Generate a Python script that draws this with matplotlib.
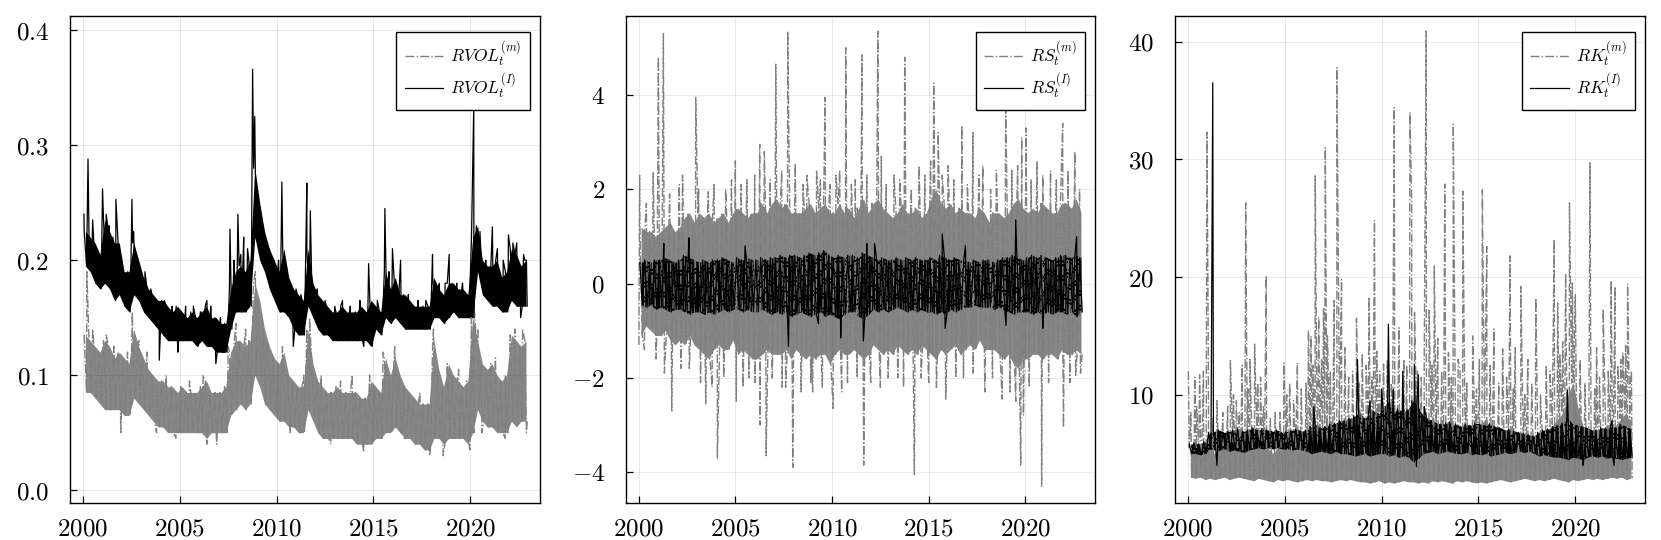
import numpy as np
import matplotlib
matplotlib.use("Agg")
import matplotlib.pyplot as plt
from matplotlib.ticker import FuncFormatter

plt.rcParams["mathtext.fontset"] = "cm"
plt.rcParams["font.family"] = ["DejaVu Serif"]

# ---- quarterly envelopes (2000Q1 .. 2022Q4) ----
# RVOL, intraday (I)
rvol_i_hi = [0.225, 0.22, 0.215, 0.205, 0.235, 0.225, 0.215, 0.215, 0.19, 0.19, 0.215, 0.2,
             0.185, 0.175, 0.17, 0.165, 0.165, 0.16, 0.155, 0.16, 0.155, 0.15, 0.155, 0.15,
             0.155, 0.16, 0.15, 0.15, 0.145, 0.145, 0.175, 0.19, 0.195, 0.19, 0.2, 0.28,
             0.25, 0.225, 0.21, 0.2, 0.19, 0.21, 0.185, 0.175, 0.17, 0.165, 0.21, 0.18,
             0.17, 0.165, 0.16, 0.155, 0.155, 0.16, 0.155, 0.155, 0.155, 0.16, 0.155, 0.165,
             0.16, 0.155, 0.19, 0.175, 0.185, 0.17, 0.17, 0.165, 0.16, 0.16, 0.16, 0.16,
             0.185, 0.175, 0.17, 0.18, 0.18, 0.175, 0.175, 0.17, 0.22, 0.23, 0.2, 0.195,
             0.195, 0.2, 0.185, 0.19, 0.21, 0.205, 0.195, 0.2]
rvol_i_lo = [0.195, 0.19, 0.18, 0.175, 0.18, 0.175, 0.165, 0.17, 0.16, 0.155, 0.17, 0.165,
             0.155, 0.15, 0.145, 0.14, 0.135, 0.13, 0.13, 0.13, 0.13, 0.13, 0.13, 0.125,
             0.13, 0.125, 0.125, 0.12, 0.12, 0.12, 0.14, 0.155, 0.155, 0.155, 0.16, 0.22,
             0.2, 0.19, 0.175, 0.165, 0.155, 0.155, 0.15, 0.14, 0.135, 0.135, 0.16, 0.15,
             0.14, 0.135, 0.135, 0.13, 0.13, 0.13, 0.13, 0.13, 0.13, 0.13, 0.13, 0.125,
             0.14, 0.135, 0.15, 0.145, 0.15, 0.145, 0.14, 0.14, 0.14, 0.14, 0.14, 0.14,
             0.15, 0.15, 0.145, 0.15, 0.155, 0.15, 0.15, 0.15, 0.15, 0.19, 0.17, 0.165,
             0.16, 0.16, 0.155, 0.155, 0.165, 0.16, 0.16, 0.16]
rvol_i_spikes = [(2000.05, 0.24), (2000.26, 0.288), (2000.5, 0.235), (2000.7, 0.2),
                 (2001.01, 0.262), (2001.2, 0.24), (2001.35, 0.23), (2001.55, 0.22),
                 (2001.7, 0.253), (2001.9, 0.19), (2002.15, 0.185), (2002.53, 0.253),
                 (2002.62, 0.225), (2002.8, 0.2), (2003.2, 0.19), (2003.5, 0.175),
                 (2003.7, 0.165), (2003.94, 0.113), (2004.2, 0.165), (2004.6, 0.16),
                 (2004.9, 0.12), (2005.3, 0.16), (2005.7, 0.16), (2006.1, 0.155),
                 (2006.4, 0.165), (2006.6, 0.16), (2006.86, 0.11), (2007.1, 0.15),
                 (2007.3, 0.12), (2007.59, 0.227), (2007.8, 0.2), (2008.0, 0.24),
                 (2008.15, 0.205), (2008.3, 0.22), (2008.5, 0.21), (2008.76, 0.366),
                 (2008.87, 0.325), (2009.1, 0.25), (2009.3, 0.23), (2009.6, 0.21),
                 (2009.85, 0.2), (2010.1, 0.2), (2010.27, 0.268), (2010.5, 0.195),
                 (2010.86, 0.125), (2011.0, 0.175), (2011.25, 0.17), (2011.56, 0.267),
                 (2011.74, 0.243), (2012.1, 0.175), (2012.5, 0.165), (2013.0, 0.16),
                 (2013.4, 0.165), (2013.8, 0.16), (2014.3, 0.165), (2014.5, 0.125),
                 (2014.75, 0.197), (2015.2, 0.165), (2015.59, 0.245), (2015.8, 0.19),
                 (2015.98, 0.21), (2016.4, 0.2), (2016.8, 0.17), (2017.3, 0.165),
                 (2017.7, 0.165), (2018.05, 0.205), (2018.4, 0.18), (2018.7, 0.18),
                 (2018.91, 0.205), (2019.3, 0.18), (2019.6, 0.18), (2019.9, 0.155),
                 (2020.18, 0.335), (2020.5, 0.225), (2020.8, 0.2), (2021.14, 0.229),
                 (2021.4, 0.21), (2021.7, 0.2), (2021.97, 0.222), (2022.2, 0.215),
                 (2022.4, 0.215), (2022.6, 0.15), (2022.75, 0.205), (2022.9, 0.2)]

# RVOL, model (m)
rvol_m_hi = [0.135, 0.13, 0.125, 0.12, 0.13, 0.125, 0.115, 0.12, 0.115, 0.11, 0.14, 0.125,
             0.115, 0.105, 0.1, 0.095, 0.095, 0.09, 0.09, 0.085, 0.09, 0.085, 0.085, 0.085,
             0.09, 0.095, 0.085, 0.085, 0.085, 0.09, 0.12, 0.13, 0.13, 0.125, 0.13, 0.18,
             0.165, 0.14, 0.125, 0.115, 0.11, 0.12, 0.1, 0.095, 0.09, 0.09, 0.14, 0.11,
             0.095, 0.09, 0.085, 0.085, 0.09, 0.085, 0.085, 0.085, 0.085, 0.08, 0.08, 0.095,
             0.09, 0.085, 0.115, 0.1, 0.115, 0.1, 0.09, 0.085, 0.08, 0.075, 0.075, 0.075,
             0.13, 0.105, 0.09, 0.11, 0.1, 0.095, 0.09, 0.095, 0.15, 0.13, 0.11, 0.105,
             0.11, 0.1, 0.095, 0.1, 0.135, 0.13, 0.125, 0.13]
rvol_m_lo = [0.085, 0.085, 0.08, 0.075, 0.07, 0.07, 0.07, 0.07, 0.065, 0.065, 0.08, 0.075,
             0.07, 0.065, 0.06, 0.055, 0.055, 0.05, 0.05, 0.05, 0.05, 0.05, 0.05, 0.05,
             0.05, 0.045, 0.05, 0.05, 0.05, 0.05, 0.065, 0.07, 0.075, 0.07, 0.075, 0.1,
             0.09, 0.075, 0.07, 0.065, 0.06, 0.06, 0.055, 0.055, 0.05, 0.05, 0.07, 0.06,
             0.05, 0.045, 0.045, 0.045, 0.045, 0.045, 0.045, 0.045, 0.04, 0.04, 0.04, 0.04,
             0.045, 0.045, 0.05, 0.05, 0.055, 0.05, 0.045, 0.045, 0.04, 0.04, 0.035, 0.035,
             0.045, 0.045, 0.04, 0.045, 0.045, 0.045, 0.045, 0.04, 0.05, 0.07, 0.06, 0.055,
             0.055, 0.05, 0.05, 0.05, 0.06, 0.055, 0.06, 0.06]
rvol_m_spikes = [(2000.2, 0.19), (2000.5, 0.14), (2001.2, 0.135), (2001.6, 0.125),
                 (2001.95, 0.05), (2002.3, 0.12), (2002.55, 0.155), (2002.9, 0.13),
                 (2003.3, 0.12), (2003.8, 0.05), (2004.3, 0.1), (2004.8, 0.045),
                 (2005.5, 0.095), (2006.2, 0.1), (2006.4, 0.04), (2006.9, 0.04),
                 (2007.5, 0.125), (2007.9, 0.145), (2008.4, 0.14), (2008.8, 0.18),
                 (2008.9, 0.19), (2009.5, 0.13), (2010.3, 0.125), (2010.7, 0.05),
                 (2011.4, 0.1), (2011.7, 0.15), (2012.3, 0.1), (2012.8, 0.04),
                 (2013.3, 0.095), (2013.9, 0.1), (2014.5, 0.033), (2014.8, 0.1),
                 (2015.5, 0.12), (2016.1, 0.125), (2016.6, 0.045), (2017.4, 0.085),
                 (2017.9, 0.03), (2018.1, 0.14), (2018.6, 0.03), (2019.4, 0.105),
                 (2019.98, 0.035), (2020.2, 0.16), (2020.4, 0.14), (2020.6, 0.05),
                 (2021.3, 0.115), (2021.8, 0.045), (2022.3, 0.14), (2022.7, 0.14),
                 (2022.9, 0.05)]

# RS, intraday (I)
rs_i_hi = [0.45, 0.5, 0.45, 0.5, 0.5, 0.55, 0.5, 0.45, 0.5, 0.6, 0.55, 0.5,
           0.45, 0.5, 0.45, 0.5, 0.5, 0.55, 0.5, 0.45, 0.55, 0.5, 0.55, 0.5,
           0.5, 0.55, 0.5, 0.55, 0.55, 0.6, 0.55, 0.6, 0.6, 0.55, 0.6, 0.65,
           0.6, 0.65, 0.7, 0.6, 0.55, 0.6, 0.55, 0.6, 0.6, 0.55, 0.65, 0.6,
           0.55, 0.5, 0.55, 0.5, 0.5, 0.55, 0.5, 0.55, 0.5, 0.55, 0.5, 0.5,
           0.55, 0.5, 0.6, 0.55, 0.5, 0.55, 0.5, 0.5, 0.45, 0.5, 0.45, 0.5,
           0.5, 0.45, 0.5, 0.55, 0.55, 0.6, 0.55, 0.5, 0.55, 0.6, 0.55, 0.6,
           0.55, 0.5, 0.55, 0.6, 0.6, 0.55, 0.6, 0.55]
rs_i_lo = [-0.45, -0.5, -0.45, -0.55, -0.5, -0.55, -0.6, -0.55, -0.55, -0.6, -0.65, -0.6,
           -0.6, -0.65, -0.6, -0.65, -0.6, -0.55, -0.6, -0.55, -0.55, -0.6, -0.55, -0.6,
           -0.6, -0.55, -0.6, -0.65, -0.6, -0.65, -0.6, -0.7, -0.65, -0.6, -0.65, -0.7,
           -0.65, -0.6, -0.7, -0.65, -0.7, -0.75, -0.65, -0.6, -0.6, -0.7, -0.75, -0.65,
           -0.55, -0.6, -0.55, -0.6, -0.55, -0.5, -0.55, -0.6, -0.55, -0.6, -0.55, -0.6,
           -0.6, -0.65, -0.6, -0.65, -0.55, -0.6, -0.55, -0.5, -0.5, -0.45, -0.5, -0.5,
           -0.5, -0.55, -0.5, -0.55, -0.6, -0.65, -0.6, -0.6, -0.6, -0.65, -0.6, -0.65,
           -0.6, -0.65, -0.6, -0.6, -0.65, -0.6, -0.7, -0.6]
rs_i_spikes = [(2001.3, 0.85), (2002.6, 0.97), (2005.5, 0.8), (2007.75, -1.33),
               (2009.3, -0.85), (2010.45, -1.15), (2011.62, -1.22), (2011.8, 0.85),
               (2012.2, 0.85), (2015.7, 1.05), (2015.85, -0.95), (2016.9, 0.8),
               (2019.0, -0.89), (2019.5, 1.35), (2020.9, -0.95), (2022.65, 1.0)]

# RS, model (m) - dense core plus the sparser spikes around it
rs_m_hi = [1.2, 1.1, 1.1, 1.0, 1.1, 1.2, 1.3, 1.1, 1.2, 1.4, 1.5, 1.3,
           1.5, 1.4, 1.5, 1.3, 1.4, 1.5, 1.3, 1.5, 1.6, 1.5, 1.4, 1.5,
           1.5, 1.7, 1.5, 1.7, 1.8, 1.6, 1.7, 1.5, 1.5, 1.5, 1.6, 1.7,
           1.5, 1.6, 1.7, 1.5, 1.5, 1.7, 1.5, 1.6, 1.4, 1.6, 1.8, 1.5,
           1.7, 1.8, 1.6, 1.5, 1.4, 1.5, 1.7, 1.5, 1.5, 1.6, 1.4, 1.5,
           1.8, 2.0, 1.7, 1.6, 1.7, 1.5, 1.6, 1.5, 1.5, 1.4, 1.6, 1.5,
           1.3, 1.5, 1.5, 1.4, 1.5, 1.7, 1.8, 1.6, 1.5, 1.6, 1.5, 1.7,
           1.6, 1.5, 1.5, 1.7, 1.7, 1.6, 1.8, 1.5]
rs_m_lo = [-1.1, -0.9, -1.0, -1.1, -1.1, -1.0, -1.2, -1.3, -1.2, -1.3, -1.1, -1.3,
           -1.4, -1.5, -1.6, -1.4, -1.3, -1.4, -1.4, -1.2, -1.5, -1.4, -1.5, -1.6,
           -1.6, -1.5, -1.4, -1.5, -1.5, -1.5, -1.4, -1.6, -1.4, -1.5, -1.6, -1.5,
           -1.6, -1.5, -1.5, -1.7, -1.5, -1.4, -1.5, -1.5, -1.4, -1.5, -1.6, -1.5,
           -1.3, -1.4, -1.5, -1.4, -1.5, -1.3, -1.4, -1.5, -1.4, -1.5, -1.3, -1.4,
           -1.5, -1.6, -1.4, -1.5, -1.4, -1.3, -1.5, -1.4, -1.3, -1.4, -1.2, -1.4,
           -1.4, -1.4, -1.5, -1.6, -1.5, -1.7, -1.8, -1.6, -1.6, -1.5, -1.5, -1.6,
           -1.5, -1.5, -1.6, -1.4, -1.5, -1.5, -1.4, -1.5]
rs_m_spikes = [(2000.05, 2.3), (2000.4, 1.7), (2000.75, 2.35), (2001.02, 4.8), (2001.28, 5.3),
               (2001.6, 1.9), (2002.1, 2.1), (2002.27, 2.3), (2002.95, 3.95), (2003.1, 2.0),
               (2003.6, 1.95), (2003.9, 2.1), (2004.5, 2.0), (2004.8, 2.2), (2005.0, 2.6),
               (2005.3, 2.1), (2005.6, 2.2), (2006.0, 2.3), (2006.26, 2.95), (2006.5, 2.8),
               (2006.8, 2.2), (2007.09, 4.65), (2007.4, 2.4), (2007.71, 5.35), (2008.1, 2.55),
               (2008.5, 2.1), (2008.7, 2.3), (2009.2, 2.4), (2009.4, 2.2), (2009.64, 3.95),
               (2009.9, 2.1), (2010.2, 2.3), (2010.4, 2.4), (2010.71, 5.0), (2011.0, 2.1),
               (2011.2, 2.2), (2011.55, 4.85), (2011.8, 2.3), (2012.37, 5.35), (2012.55, 2.7),
               (2012.8, 2.1), (2013.2, 2.3), (2013.5, 2.2), (2013.76, 4.8), (2014.1, 2.0),
               (2014.5, 2.5), (2014.8, 2.3), (2015.1, 2.6), (2015.26, 4.25), (2015.49, 3.2),
               (2015.7, 2.3), (2016.0, 2.5), (2016.3, 2.2), (2016.71, 3.35), (2017.0, 2.1),
               (2017.29, 3.2), (2017.6, 2.3), (2017.8, 2.5), (2018.2, 2.0), (2018.5, 2.4),
               (2018.98, 3.7), (2019.3, 2.4), (2019.6, 2.5), (2019.81, 3.1), (2020.04, 3.3),
               (2020.3, 2.2), (2020.6, 2.6), (2020.9, 2.3), (2021.3, 2.4), (2021.6, 2.2),
               (2021.93, 3.4), (2022.2, 2.4), (2022.56, 2.8), (2022.8, 2.0),
               (2000.01, -1.3), (2000.3, -1.4), (2000.9, -1.6), (2001.33, -1.9),
               (2001.71, -2.7), (2002.2, -1.8), (2002.62, -1.8), (2003.2, -2.1),
               (2003.47, -2.55), (2003.8, -2.2), (2004.07, -3.7), (2004.4, -2.0),
               (2005.05, -2.5), (2005.4, -2.2), (2005.7, -2.0), (2006.02, -2.1),
               (2006.28, -3.0), (2006.59, -3.65), (2006.9, -2.0), (2007.42, -2.2),
               (2007.6, -2.2), (2007.97, -3.9), (2008.4, -2.3), (2008.9, -2.1),
               (2009.0, -2.3), (2009.5, -2.2), (2010.06, -2.65), (2010.5, -2.3),
               (2010.8, -2.1), (2011.3, -2.0), (2011.64, -3.85), (2012.0, -2.1),
               (2012.5, -2.2), (2012.9, -2.0), (2013.4, -2.0), (2013.7, -2.2),
               (2014.26, -4.05), (2014.6, -2.0), (2015.0, -2.1), (2015.4, -2.2),
               (2015.88, -2.45), (2016.4, -2.0), (2016.8, -2.0), (2017.3, -1.9),
               (2017.9, -2.3), (2018.3, -2.0), (2018.8, -2.45), (2019.2, -2.3),
               (2019.5, -2.5), (2019.76, -3.85), (2019.9, -2.8), (2020.2, -2.2),
               (2020.84, -4.3), (2021.2, -2.1), (2021.97, -3.05), (2022.3, -2.1),
               (2022.6, -1.95), (2022.85, -1.9)]

# RK, intraday (I)
rk_i_hi = [5.8, 5.9, 5.8, 6.0, 6.8, 6.9, 7.0, 6.8, 6.9, 7.0, 7.1, 6.9,
           7.0, 7.2, 7.0, 7.1, 7.0, 6.9, 7.0, 6.8, 6.9, 7.0, 7.1, 6.9,
           7.0, 7.3, 7.5, 7.2, 7.3, 7.5, 7.6, 7.8, 7.8, 8.0, 8.2, 8.5,
           8.0, 8.3, 8.6, 8.4, 9.0, 9.5, 8.5, 8.8, 8.5, 8.8, 9.5, 9.0,
           8.3, 8.0, 7.8, 7.6, 7.5, 7.6, 7.4, 7.5, 7.3, 7.5, 7.4, 7.6,
           7.5, 7.4, 7.5, 7.3, 7.2, 7.0, 7.1, 6.9, 6.8, 6.7, 6.6, 6.5,
           6.8, 7.0, 7.1, 7.3, 7.4, 7.6, 8.0, 7.5, 7.4, 7.3, 7.2, 7.0,
           7.0, 7.2, 7.1, 7.3, 7.2, 7.5, 7.3, 7.1]
rk_i_lo = [5.0, 5.0, 4.9, 5.0, 5.4, 5.3, 5.3, 5.4, 5.2, 5.3, 5.2, 5.1,
           5.3, 5.4, 5.5, 5.4, 5.5, 5.4, 5.5, 5.4, 5.4, 5.3, 5.4, 5.3,
           5.2, 5.0, 5.1, 5.2, 5.1, 5.0, 5.2, 5.0, 5.0, 4.9, 4.8, 4.9,
           5.0, 4.8, 4.9, 5.0, 5.0, 4.8, 4.9, 4.7, 4.8, 4.7, 4.3, 4.6,
           5.0, 5.1, 5.2, 5.0, 5.1, 5.2, 5.1, 5.0, 5.0, 5.1, 4.9, 5.0,
           4.9, 5.0, 4.8, 4.9, 5.0, 5.1, 5.0, 5.1, 5.2, 5.1, 5.2, 5.0,
           4.8, 4.9, 4.8, 4.7, 4.7, 4.6, 4.5, 4.7, 4.6, 4.5, 4.7, 4.8,
           4.7, 4.8, 4.6, 4.7, 4.6, 4.5, 4.6, 4.7]
rk_i_spikes = [(2001.28, 36.5), (2001.5, 4.0), (2006.5, 9.0), (2008.75, 13.0),
               (2009.4, 9.5), (2010.0, 10.5), (2010.35, 16.0), (2010.6, 10.5),
               (2011.09, 12.0), (2011.69, 12.6), (2011.8, 3.9), (2011.9, 11.7),
               (2012.2, 9.0), (2013.5, 7.7), (2019.59, 10.4), (2020.4, 4.0),
               (2021.9, 7.8), (2022.0, 4.0)]

# RK, model (m) - dense core plus the spikes above it
rk_m_hi = [5.5, 5.0, 5.5, 5.0, 5.5, 5.0, 5.5, 6.0, 5.5, 6.0, 5.5, 6.0,
           6.5, 6.0, 6.5, 6.0, 5.5, 5.0, 5.5, 5.5, 6.0, 6.0, 5.5, 6.0,
           6.0, 6.5, 7.0, 7.0, 7.5, 7.0, 7.0, 7.5, 7.0, 6.5, 6.5, 7.5,
           7.0, 7.5, 7.5, 7.0, 7.5, 7.5, 7.0, 7.5, 7.0, 7.5, 8.0, 7.5,
           7.5, 7.5, 8.0, 7.0, 7.5, 7.5, 7.0, 7.5, 7.0, 6.5, 6.5, 6.5,
           7.5, 8.0, 7.0, 6.5, 6.5, 7.0, 6.5, 6.0, 6.0, 6.5, 6.0, 6.5,
           6.5, 6.0, 7.0, 7.5, 8.0, 8.5, 10.0, 11.0, 9.0, 7.5, 6.5, 7.0,
           6.5, 7.0, 7.5, 7.0, 7.5, 8.0, 8.5, 7.5]
rk_m_lo = [3.0, 2.9, 3.0, 2.8, 2.9, 2.8, 2.9, 3.0, 2.8, 2.9, 3.0, 2.9,
           2.8, 2.7, 2.9, 2.8, 2.7, 2.6, 2.8, 2.7, 2.8, 2.7, 2.6, 2.7,
           2.8, 2.7, 2.8, 2.7, 2.7, 2.6, 2.7, 2.8, 2.7, 2.8, 2.7, 2.6,
           2.6, 2.5, 2.6, 2.7, 2.5, 2.6, 2.5, 2.6, 2.7, 2.6, 2.6, 2.5,
           2.6, 2.5, 2.7, 2.6, 2.7, 2.6, 2.5, 2.7, 2.6, 2.7, 2.6, 2.5,
           2.6, 2.5, 2.6, 2.7, 2.8, 2.7, 2.6, 2.7, 2.8, 2.9, 2.8, 2.7,
           2.8, 2.7, 2.8, 2.9, 2.8, 2.7, 2.6, 2.8, 2.7, 2.8, 2.9, 2.8,
           2.9, 2.8, 2.9, 3.0, 2.9, 3.0, 2.8, 2.9]
rk_m_spikes = [(2000.02, 12.0), (2000.15, 8.5), (2000.35, 11.5), (2000.45, 9.0),
               (2000.6, 11.7), (2000.8, 12.0), (2000.98, 32.3), (2001.05, 14.0),
               (2001.3, 8.0), (2001.5, 9.5), (2001.8, 8.5), (2002.05, 9.0),
               (2002.19, 12.9), (2002.35, 10.0), (2002.5, 9.5), (2002.65, 8.5),
               (2002.8, 12.5), (2002.98, 26.3), (2003.1, 10.5), (2003.2, 13.0),
               (2003.44, 14.3), (2003.6, 11.0), (2003.75, 11.5), (2003.9, 9.0),
               (2004.04, 20.1), (2004.25, 8.0), (2004.5, 8.5), (2004.75, 8.5),
               (2004.95, 12.7), (2005.1, 10.0), (2005.25, 11.0), (2005.45, 9.5),
               (2005.65, 12.7), (2005.85, 10.5), (2006.1, 11.0), (2006.22, 15.5),
               (2006.35, 15.0), (2006.45, 12.5), (2006.57, 28.6), (2006.75, 16.6),
               (2006.9, 13.0), (2007.0, 17.3), (2007.09, 31.0), (2007.2, 15.0),
               (2007.35, 12.0), (2007.55, 18.0), (2007.69, 37.8), (2007.8, 13.5),
               (2007.93, 19.8), (2008.1, 14.0), (2008.3, 11.5), (2008.5, 12.0),
               (2008.7, 16.5), (2008.85, 11.0), (2009.0, 13.5), (2009.2, 12.5),
               (2009.35, 18.3), (2009.5, 11.5), (2009.63, 24.8), (2009.75, 13.7),
               (2009.9, 12.0), (2010.1, 12.6), (2010.3, 13.0), (2010.5, 11.0),
               (2010.65, 34.4), (2010.9, 15.7), (2011.15, 13.0), (2011.3, 12.5),
               (2011.46, 34.0), (2011.55, 26.6), (2011.7, 17.0), (2011.85, 12.0),
               (2012.05, 11.5), (2012.2, 13.0), (2012.3, 40.9), (2012.45, 17.2),
               (2012.6, 12.5), (2012.72, 21.0), (2012.9, 14.8), (2013.1, 12.0),
               (2013.26, 27.9), (2013.45, 13.6), (2013.6, 11.5), (2013.7, 33.0),
               (2013.95, 13.0), (2014.05, 12.0), (2014.19, 27.3), (2014.4, 11.0),
               (2014.7, 15.0), (2014.9, 10.5), (2015.05, 13.0), (2015.2, 27.4),
               (2015.43, 22.6), (2015.6, 12.5), (2015.8, 15.6), (2016.05, 11.0),
               (2016.25, 13.9), (2016.45, 11.5), (2016.63, 21.8), (2016.8, 10.5),
               (2016.9, 14.0), (2017.19, 19.2), (2017.4, 10.0), (2017.55, 13.0),
               (2017.75, 11.0), (2017.96, 18.2), (2018.2, 10.0), (2018.5, 12.5),
               (2018.7, 12.0), (2018.91, 23.2), (2019.09, 17.8), (2019.2, 13.5),
               (2019.35, 14.5), (2019.5, 20.3), (2019.7, 26.3), (2019.85, 19.5),
               (2019.95, 15.0), (2020.0, 18.5), (2020.25, 13.0), (2020.5, 11.0),
               (2020.76, 29.7), (2021.0, 10.5), (2021.1, 14.0), (2021.25, 11.5),
               (2021.44, 17.3), (2021.7, 12.0), (2021.85, 19.7), (2022.05, 19.2),
               (2022.2, 12.5), (2022.35, 13.0), (2022.45, 13.6), (2022.6, 14.2),
               (2022.7, 19.4), (2022.85, 11.0), (2022.9, 12.0)]

x_ticks = [2000, 2005, 2010, 2015, 2020]


def series(hi, lo, spikes):
    # each quarter: one point on the high side, one on the low side, plus spikes
    q = 2000 + np.arange(len(hi)) / 4
    t = np.concatenate([q + 1 / 16, q + 3 / 16, [s[0] for s in spikes]])
    v = np.concatenate([hi, lo, [s[1] for s in spikes]])
    order = np.argsort(t, kind="stable")
    return t[order], v[order]


def band(ax, hi, lo, color):
    q = 2000 + np.arange(len(hi)) / 4 + 1 / 8
    ax.fill_between(q, lo, hi, color=color, lw=0)


W, H = 1661, 540
fig = plt.figure(figsize=(W / 100, H / 100), dpi=100)

panels = [
    dict(left=70, right=540, m=(rvol_m_hi, rvol_m_lo, rvol_m_spikes),
         i=(rvol_i_hi, rvol_i_lo, rvol_i_spikes), name="RVOL",
         ylim=(-0.0114, 0.4126), yticks=[0.0, 0.1, 0.2, 0.3, 0.4], fmt="%.1f"),
    dict(left=625.7, right=1095, m=(rs_m_hi, rs_m_lo, rs_m_spikes),
         i=(rs_i_hi, rs_i_lo, rs_i_spikes), name="RS",
         ylim=(-4.66, 5.68), yticks=[-4, -2, 0, 2, 4], fmt="%d"),
    dict(left=1175, right=1645, m=(rk_m_hi, rk_m_lo, rk_m_spikes),
         i=(rk_i_hi, rk_i_lo, rk_i_spikes), name="RK",
         ylim=(0.78, 42.2), yticks=[10, 20, 30, 40], fmt="%d"),
]

gray = "#808080"
top, bottom = 15.7, 503.3
for p in panels:
    ax = fig.add_axes([p["left"] / W, 1 - bottom / H,
                       (p["right"] - p["left"]) / W, (bottom - top) / H])
    tm, vm = series(*p["m"])
    ti, vi = series(*p["i"])
    band(ax, p["m"][0], p["m"][1], "#878787")
    ax.plot(tm, vm, color=gray, lw=1.0, ls="-.",
            label=r"$%s_t^{(m)}$" % p["name"])
    band(ax, p["i"][0], p["i"][1], "black")
    ax.plot(ti, vi, color="black", lw=0.9, ls="-",
            label=r"$%s_t^{(I)}$" % p["name"])

    ax.set_xlim(1999.33, 2023.6)
    ax.set_ylim(*p["ylim"])
    ax.set_xticks(x_ticks)
    ax.set_yticks(p["yticks"])
    fmt = p["fmt"]
    ax.xaxis.set_major_formatter(FuncFormatter(lambda v, _: "$%d$" % v))
    ax.yaxis.set_major_formatter(FuncFormatter(lambda v, _, f=fmt: "$" + (f % v) + "$"))
    ax.tick_params(direction="in", length=5, width=0.9, labelsize=18, color="black")
    ax.tick_params(axis="y", pad=15)
    ax.tick_params(axis="x", pad=10)
    ax.grid(True, color="black", alpha=0.1, lw=0.6)
    for s in ax.spines.values():
        s.set_linewidth(1.0)

    aw = p["right"] - p["left"]
    leg = ax.legend(loc="upper right", bbox_to_anchor=(1 - 10 / aw, 1 - 16 / (bottom - top)),
                    borderaxespad=0, fontsize=12.5, frameon=True, fancybox=False,
                    framealpha=1, edgecolor="black", handlelength=2.2,
                    labelspacing=0.15, borderpad=0.5, handletextpad=0.4)
    leg.get_frame().set_linewidth(1.0)

fig.savefig("out.png", dpi=100)
